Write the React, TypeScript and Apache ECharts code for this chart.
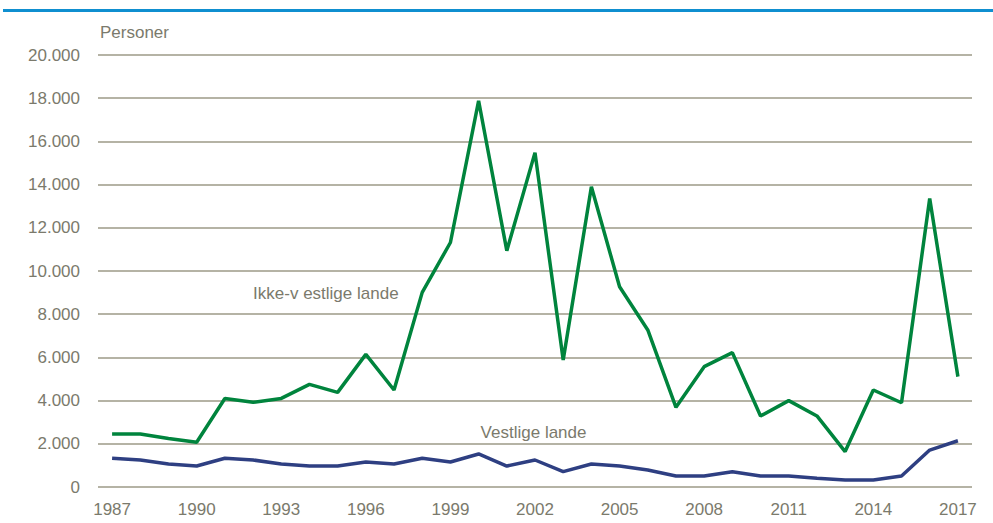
import React, { useEffect, useRef } from "react";
import * as echarts from "echarts";

const years = [
  "1987", "1988", "1989", "1990", "1991", "1992", "1993", "1994", "1995", "1996",
  "1997", "1998", "1999", "2000", "2001", "2002", "2003", "2004", "2005", "2006",
  "2007", "2008", "2009", "2010", "2011", "2012", "2013", "2014", "2015", "2016", "2017",
];
const ikkeVestlige = [
  2450, 2450, 2250, 2070, 4100, 3920, 4100, 4750, 4380, 6140,
  4490, 9010, 11320, 17880, 10940, 15480, 5880, 13900, 9270, 7270,
  3690, 5570, 6220, 3290, 4000, 3290, 1640, 4490, 3900, 13360, 5110,
];
const vestlige = [
  1330, 1250, 1065, 970, 1330, 1250, 1065, 970, 970, 1160,
  1065, 1330, 1160, 1530, 970, 1250, 710, 1065, 970, 790,
  510, 510, 710, 510, 510, 400, 320, 320, 510, 1710, 2140,
];
const seriesNames = ["Ikke-v estlige lande", "Vestlige lande"];
const unitLabel = "Personer";

const FONT = "'Liberation Sans Narrow', 'Liberation Sans', Arial, sans-serif";
const TEXT = "#7b7a6c";

export default function App() {
  const ref = useRef<HTMLDivElement>(null);
  useEffect(() => {
    document.body.style.margin = "0";
    if (!ref.current) return;
    const chart = echarts.init(ref.current, undefined, { renderer: "svg" });
    chart.setOption({
      animation: false,
      backgroundColor: "#ffffff",
      grid: { left: 98, right: 21, top: 55, bottom: 36 },
      xAxis: {
        type: "category",
        data: years,
        boundaryGap: true,
        axisLine: { show: false },
        axisTick: { show: false },
        axisLabel: {
          interval: 2,
          color: TEXT,
          fontFamily: FONT,
          fontSize: 17,
          margin: 14,
        },
      },
      yAxis: {
        type: "value",
        min: 0,
        max: 20000,
        interval: 2000,
        axisLine: { show: false },
        axisTick: { show: false },
        axisLabel: {
          color: TEXT,
          fontFamily: FONT,
          fontSize: 17,
          margin: 18,
          formatter: (v: number) =>
            v === 0 ? "0" : String(v).replace(/\B(?=(\d{3})+(?!\d))/g, "."),
        },
        splitLine: { lineStyle: { color: "#b5b3a5", width: 2 } },
      },
      graphic: [
        {
          type: "rect",
          shape: { x: 3, y: 9, width: 990, height: 3 },
          style: { fill: "#0f8fd0" },
        },
        {
          type: "text",
          left: 100,
          top: 24,
          style: { text: unitLabel, fill: TEXT, font: `17px ${FONT}` },
        },
      ],
      series: [
        {
          name: seriesNames[0],
          type: "line",
          data: ikkeVestlige,
          symbol: "none",
          lineStyle: { color: "#00843d", width: 3.5 },
          markPoint: {
            symbol: "rect",
            symbolSize: 0,
            data: [{ coord: [years[5], 8980], value: 0 }],
            label: {
              show: true,
              position: "right",
              formatter: seriesNames[0],
              color: TEXT,
              fontFamily: FONT,
              fontSize: 17,
              offset: [-5, 0],
            },
          },
        },
        {
          name: seriesNames[1],
          type: "line",
          data: vestlige,
          symbol: "none",
          lineStyle: { color: "#2e3f82", width: 3.5 },
          markPoint: {
            symbol: "rect",
            symbolSize: 0,
            data: [{ coord: [years[13], 2540], value: 0 }],
            label: {
              show: true,
              position: "right",
              formatter: seriesNames[1],
              color: TEXT,
              fontFamily: FONT,
              fontSize: 17,
              offset: [-3, 0],
            },
          },
        },
      ],
    });
    return () => chart.dispose();
  }, []);
  return <div ref={ref} style={{ width: 993, height: 523 }} />;
}
